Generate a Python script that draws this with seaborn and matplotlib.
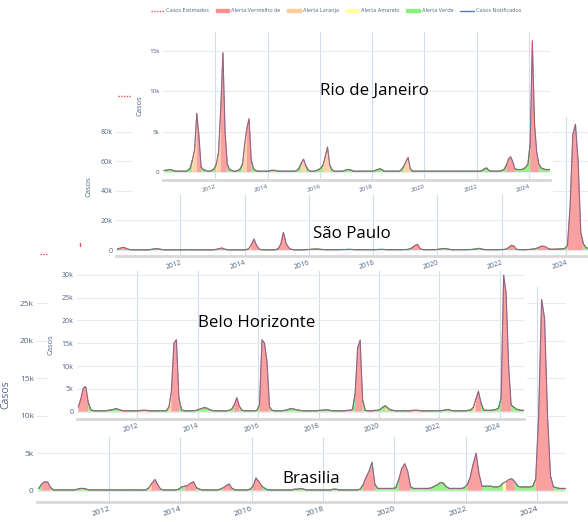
import numpy as np
import matplotlib
matplotlib.use("Agg")
import matplotlib.pyplot as plt
from matplotlib.patches import Rectangle, Patch
from matplotlib.lines import Line2D
import seaborn as sns

# casos por mes (mil), jan/2010 .. out/2024
rio_casos = [
    0.2, 0.2, 0.3, 0.3, 0.2, 0.1, 0.1, 0.1, 0.1, 0.1, 0.1, 0.2,
    0.5, 1.5, 2.8, 7.3, 4.5, 0.6, 0.3, 0.2, 0.1, 0.1, 0.2, 0.4,
    1.0, 2.5, 8.0, 14.8, 5.0, 1.0, 0.3, 0.2, 0.1, 0.1, 0.2, 0.4,
    1.0, 3.5, 5.5, 6.6, 1.5, 0.4, 0.2, 0.1, 0.1, 0.1, 0.1, 0.1,
    0.1, 0.2, 0.2, 0.2, 0.1, 0.1, 0.1, 0.1, 0.1, 0.1, 0.1, 0.1,
    0.1, 0.2, 0.5, 1.1, 1.6, 0.8, 0.3, 0.1, 0.1, 0.1, 0.2, 0.3,
    0.5, 0.9, 2.0, 3.1, 0.9, 0.3, 0.1, 0.1, 0.1, 0.1, 0.1, 0.2,
    0.3, 0.3, 0.2, 0.1, 0.1, 0.1, 0.1, 0.1, 0.1, 0.1, 0.1, 0.1,
    0.1, 0.2, 0.3, 0.4, 0.3, 0.1, 0.1, 0.1, 0.1, 0.1, 0.1, 0.1,
    0.1, 0.3, 0.7, 1.3, 1.8, 0.4, 0.1, 0.1, 0.1, 0.1, 0.1, 0.1,
    0.1, 0.1, 0.1, 0.1, 0.1, 0.1, 0.1, 0.1, 0.1, 0.1, 0.1, 0.1,
    0.1, 0.1, 0.1, 0.1, 0.1, 0.1, 0.1, 0.1, 0.1, 0.1, 0.1, 0.1,
    0.1, 0.1, 0.2, 0.4, 0.5, 0.2, 0.1, 0.1, 0.1, 0.1, 0.1, 0.2,
    0.3, 0.8, 1.6, 1.9, 1.3, 0.4, 0.3, 0.3, 0.3, 0.4, 0.6, 1.0,
    3.5, 16.3, 6.0, 2.5, 1.0, 0.5, 0.4, 0.3, 0.3, 0.3,
]
rio_alerta = ["gggggggggggg", "goorrggggggg", "oorrrggggggg", "oorrgggggggg",
              "gggggggggggg", "gggooggggggg", "gooogggggggg", "gggggggggggg",
              "gggggggggggg", "ggoooggggggg", "gggggggggggg", "gggggggggggg",
              "gggggggggggg", "grrrrggggggg", "rrrrgggggg"]

sp_casos = [
    0.5, 1.2, 1.8, 1.4, 0.5, 0.2, 0.1, 0.1, 0.1, 0.1, 0.1, 0.1,
    0.2, 0.5, 0.8, 1.0, 0.5, 0.2, 0.1, 0.1, 0.1, 0.1, 0.1, 0.1,
    0.1, 0.1, 0.2, 0.2, 0.1, 0.1, 0.1, 0.1, 0.1, 0.1, 0.1, 0.1,
    0.2, 0.4, 0.9, 1.4, 0.6, 0.2, 0.1, 0.1, 0.1, 0.1, 0.1, 0.1,
    0.2, 0.8, 3.5, 7.4, 3.0, 0.5, 0.2, 0.1, 0.1, 0.1, 0.1, 0.2,
    0.8, 4.0, 12.0, 4.5, 1.5, 0.4, 0.2, 0.1, 0.1, 0.1, 0.2, 0.3,
    0.4, 0.6, 0.7, 0.6, 0.4, 0.3, 0.2, 0.2, 0.2, 0.2, 0.2, 0.3,
    0.3, 0.3, 0.4, 0.4, 0.3, 0.2, 0.2, 0.2, 0.2, 0.2, 0.2, 0.2,
    0.2, 0.3, 0.4, 0.4, 0.3, 0.2, 0.2, 0.2, 0.2, 0.2, 0.2, 0.3,
    0.3, 0.6, 1.5, 3.0, 3.8, 1.0, 0.3, 0.2, 0.2, 0.2, 0.2, 0.3,
    0.5, 0.8, 1.0, 0.8, 0.4, 0.2, 0.2, 0.2, 0.2, 0.2, 0.2, 0.3,
    0.3, 0.5, 0.8, 1.1, 0.6, 0.3, 0.2, 0.2, 0.2, 0.2, 0.2, 0.3,
    0.3, 0.5, 1.5, 3.2, 2.8, 0.4, 0.3, 0.2, 0.2, 0.3, 0.4, 0.6,
    0.8, 1.5, 2.4, 2.7, 2.0, 0.8, 0.5, 0.5, 0.6, 0.7, 0.8, 1.0,
    3.0, 30.0, 78.0, 85.0, 60.0, 12.0, 4.0, 1.5, 1.0, 1.0,
]
sp_alerta = ["grrrgggggggg", "ggrrgggggggg", "gggggggggggg", "ggrrgggggggg",
             "gorrrggggggg", "rrrrrggggggg", "gggggggggggg", "gggggggggggg",
             "gggggggggggg", "ggrrrrgggggg", "gggggggggggg", "gggggggggggg",
             "ggrrrggggggg", "grrrrggggggg", "rrrrrrgggg"]

bh_casos = [
    1.0, 2.8, 5.2, 5.5, 2.0, 0.4, 0.2, 0.2, 0.2, 0.2, 0.2, 0.2,
    0.3, 0.4, 0.5, 0.7, 0.5, 0.3, 0.2, 0.2, 0.2, 0.2, 0.2, 0.2,
    0.2, 0.3, 0.3, 0.3, 0.2, 0.2, 0.2, 0.2, 0.2, 0.2, 0.2, 0.2,
    1.0, 4.5, 15.0, 15.8, 3.0, 0.4, 0.2, 0.2, 0.2, 0.2, 0.2, 0.3,
    0.5, 0.7, 0.9, 0.8, 0.5, 0.3, 0.2, 0.2, 0.2, 0.2, 0.2, 0.2,
    0.3, 0.6, 1.5, 3.1, 1.2, 0.3, 0.2, 0.2, 0.2, 0.2, 0.2, 0.3,
    1.5, 15.8, 15.0, 11.0, 1.0, 0.3, 0.2, 0.2, 0.2, 0.2, 0.3, 0.4,
    0.6, 0.7, 0.5, 0.4, 0.3, 0.2, 0.2, 0.2, 0.2, 0.2, 0.2, 0.2,
    0.3, 0.3, 0.4, 0.4, 0.3, 0.2, 0.2, 0.2, 0.2, 0.2, 0.2, 0.3,
    0.3, 0.5, 4.0, 14.0, 15.7, 2.5, 0.3, 0.2, 0.2, 0.2, 0.3, 0.3,
    0.5, 1.0, 1.3, 0.8, 0.4, 0.3, 0.2, 0.2, 0.2, 0.2, 0.2, 0.2,
    0.2, 0.3, 0.3, 0.3, 0.2, 0.2, 0.2, 0.2, 0.2, 0.2, 0.2, 0.2,
    0.2, 0.3, 0.4, 0.5, 0.3, 0.2, 0.2, 0.2, 0.2, 0.2, 0.2, 0.3,
    0.4, 1.0, 2.8, 4.5, 2.0, 0.4, 0.3, 0.3, 0.3, 0.4, 0.5, 0.8,
    3.0, 30.0, 26.0, 10.0, 1.5, 1.0, 0.6, 0.4, 0.3, 0.3,
]
bh_alerta = ["rrrrgggggggg", "gggggggggggg", "gggggggggggg", "orrrgggggggg",
             "gggggggggggg", "ggrrgggggggg", "rrrrgggggggg", "gggggggggggg",
             "gggggggggggg", "ggrrrggggggg", "ggoggggggggg", "gggggggggggg",
             "gggggggggggg", "gorrgggggggg", "rrrrgggggg"]

bsb_casos = [
    0.3, 0.9, 1.2, 1.15, 0.4, 0.1, 0.1, 0.1, 0.1, 0.1, 0.1, 0.1,
    0.1, 0.2, 0.3, 0.3, 0.2, 0.1, 0.1, 0.1, 0.1, 0.1, 0.1, 0.1,
    0.1, 0.1, 0.1, 0.1, 0.1, 0.1, 0.1, 0.1, 0.1, 0.1, 0.1, 0.1,
    0.1, 0.4, 1.0, 1.5, 0.8, 0.2, 0.1, 0.1, 0.1, 0.1, 0.1, 0.2,
    0.5, 0.6, 0.7, 1.0, 1.2, 0.4, 0.2, 0.1, 0.1, 0.1, 0.1, 0.1,
    0.1, 0.2, 0.4, 0.7, 0.9, 0.3, 0.1, 0.1, 0.1, 0.1, 0.1, 0.2,
    0.6, 1.7, 1.2, 0.6, 0.3, 0.1, 0.1, 0.1, 0.1, 0.1, 0.1, 0.1,
    0.1, 0.1, 0.2, 0.2, 0.3, 0.2, 0.1, 0.1, 0.1, 0.1, 0.1, 0.1,
    0.1, 0.1, 0.1, 0.2, 0.2, 0.1, 0.1, 0.1, 0.1, 0.1, 0.1, 0.1,
    0.2, 0.8, 1.8, 2.6, 3.8, 0.8, 0.3, 0.3, 0.3, 0.3, 0.3, 0.3,
    0.4, 1.5, 3.0, 3.6, 2.6, 0.5, 0.3, 0.3, 0.3, 0.3, 0.3, 0.3,
    0.4, 0.6, 0.8, 1.1, 1.0, 0.5, 0.3, 0.3, 0.3, 0.3, 0.3, 0.4,
    0.8, 1.8, 3.6, 5.0, 2.2, 0.6, 0.6, 0.6, 0.6, 0.5, 0.5, 0.6,
    1.0, 1.2, 1.5, 1.6, 1.2, 0.6, 0.5, 0.5, 0.5, 0.5, 0.6, 1.5,
    10.0, 25.5, 23.0, 10.0, 2.0, 0.5, 0.4, 0.3, 0.3, 0.3,
]
bsb_alerta = ["grrrgggggggg", "gggggggggggg", "gggggggggggg", "gorrrggggggg",
              "grrrrggggggg", "ggrrrggggggg", "rrrggggggggg", "gggggggggggg",
              "gggggggggggg", "grrrrggggggg", "grrrrggggggg", "gggggggggggg",
              "rrrrrggggggg", "yrrrgggggggr", "rrrrrggggg"]

anos = [2012, 2014, 2016, 2018, 2020, 2022, 2024]
legenda = ["Casos Estimados", "Alerta Vermelho de", "Alerta Laranja",
           "Alerta Amarelo", "Alerta Verde", "Casos Notificados"]

cores = {"g": "#9af08e", "y": "#ffffb0", "o": "#ffd3a6", "r": "#f9a0a0"}
verde_linha = "#5fe35f"
azul = "#5d6a9c"
vermelho = "#e05555"
cinza_txt = "#506784"

W, H = 588, 522
sns.set_theme(style="white")
plt.rcParams["font.family"] = ["Open Sans", "DejaVu Sans"]

fig = plt.figure(figsize=(W / 100, H / 100), dpi=100)
fig.patch.set_facecolor("white")


def fundo(x0, y0, x1, y1, z):
    fig.add_artist(Rectangle((x0 / W, 1 - y1 / H), (x1 - x0) / W, (y1 - y0) / H,
                             transform=fig.transFigure, facecolor="white",
                             edgecolor="none", zorder=z))


def painel(caixa, ylim, yticks, casos, alerta, titulo, tpos, fs, z, lab_fs):
    x0, y0, x1, y1 = caixa
    ax = fig.add_axes([x0 / W, 1 - y1 / H, (x1 - x0) / W, (y1 - y0) / H], zorder=z)
    ax.set_facecolor("white")
    n = len(casos)
    t = 2010 + (np.arange(n) + 0.5) / 12
    y = np.array(casos)
    lv = np.array(list("".join(alerta)))
    for k in ["g", "y", "o", "r"]:
        m = lv == k
        m2 = m | np.roll(m, 1)
        m2[0] = m[0]
        ax.fill_between(t, 0, y, where=m2, color=cores[k], lw=0, zorder=2)
        if k == "g":
            ax.plot(t, np.where(m2, y, np.nan), color=verde_linha, lw=0.9, zorder=3)
    sns.lineplot(x=t, y=y, color=azul, lw=0.75, ax=ax, zorder=4)
    sns.lineplot(x=t, y=y, color=vermelho, lw=0.7, linestyle=(0, (1, 1.2)),
                 ax=ax, zorder=5)
    ax.set_xlim(2010.0, 2024.8)
    ax.set_ylim(*ylim)
    ax.set_xticks(anos)
    ax.set_xticklabels([str(a) for a in anos], rotation=18, ha="right",
                       rotation_mode="anchor", fontsize=fs, color=cinza_txt)
    ax.set_yticks(yticks)
    ax.set_yticklabels(["0" if v == 0 else f"{v:g}k" for v in yticks],
                       fontsize=fs, color=cinza_txt)
    ax.tick_params(axis="both", length=0, pad=2.5)
    ax.grid(axis="y", color="#e6ebf3", lw=0.8)
    ax.grid(axis="x", color="#d3dbe8", lw=0.8)
    ax.set_axisbelow(True)
    for s in ["top", "right", "left"]:
        ax.spines[s].set_visible(False)
    ax.spines["bottom"].set_color("#d8d8d8")
    ax.spines["bottom"].set_linewidth(2)
    ax.set_xlabel("")
    ax.set_ylabel("Casos", fontsize=lab_fs, color=cinza_txt)
    ax.yaxis.set_label_coords(-0.05, 0.5)
    ax.text(tpos[0] / W, 1 - tpos[1] / H, titulo, transform=fig.transFigure,
            fontsize=12.2, color="black", ha="center", va="center")
    return ax


# Brasilia (fundo)
painel((37.3, 287, 565.7, 502), (-1.507, 27.16), [0, 5, 10, 15, 20, 25],
       bsb_casos, bsb_alerta, "Brasilia", (311, 479), 6, 1, 7.5)
fig.add_artist(Line2D([40 / W, 48 / W], [1 - 253.5 / H] * 2, transform=fig.transFigure,
                      color=vermelho, ls=(0, (1, 1)), lw=1, zorder=1.2))
fig.add_artist(Line2D([80 / W, 80 / W], [1 - 242.5 / H, 1 - 245.5 / H],
                      transform=fig.transFigure, color=vermelho, lw=1, zorder=1.2))

# Belo Horizonte
fundo(48, 268, 527, 437, 1.5)
painel((77, 271, 524, 419), (-1.601, 30.855), [0, 5, 10, 15, 20, 25, 30],
       bh_casos, bh_alerta, "Belo Horizonte", (257, 323), 5, 2, 5.5)

# Sao Paulo
fundo(85, 85, 600, 271, 2.5)
painel((116, 117, 591.8, 256), (-4.054, 89.865), [0, 20, 40, 60, 80],
       sp_casos, sp_alerta, "São Paulo", (352, 234), 5, 3, 5.5)
fig.add_artist(Line2D([118 / W, 131 / W], [1 - 95.7 / H] * 2, transform=fig.transFigure,
                      color=vermelho, ls=(0, (1, 1)), lw=1, zorder=2.8))

# Rio de Janeiro (topo)
fundo(132, 0, 553, 195, 3.5)
painel((163, 32, 550, 180), (-0.993, 17.37), [0, 5, 10, 15],
       rio_casos, rio_alerta, "Rio de Janeiro", (374, 91), 4.5, 4, 5.5)

handles = [
    Line2D([], [], color=vermelho, ls=(0, (1, 1)), lw=1),
    Patch(color="#f78f8f"),
    Patch(color="#ffcc9a"),
    Patch(color="#ffff9e"),
    Patch(color="#86f27a"),
    Line2D([], [], color="#5a78b0", lw=1),
]
leg = fig.legend(handles, legenda, loc="center", bbox_to_anchor=(336 / W, 1 - 11 / H),
                 ncol=6, fontsize=4, frameon=False, handlelength=2.4, handleheight=0.6,
                 columnspacing=1.2, handletextpad=0.4, labelcolor=cinza_txt)
leg.set_zorder(20)

fig.savefig("out.png", dpi=100, facecolor="white")
